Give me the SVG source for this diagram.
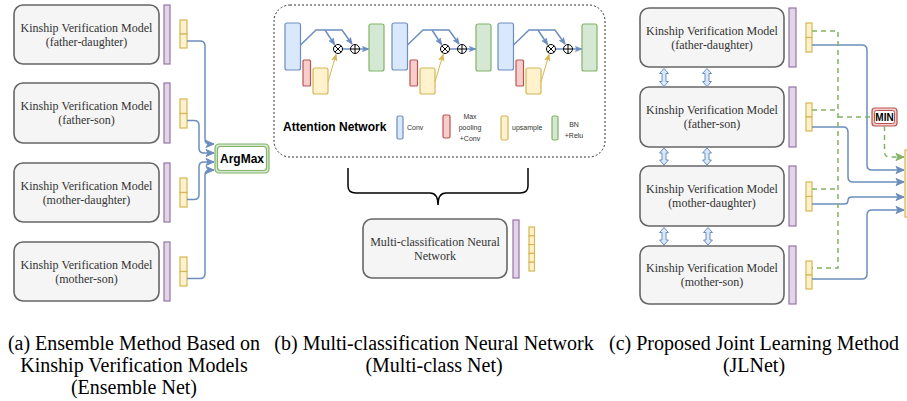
<svg xmlns="http://www.w3.org/2000/svg" width="907" height="401" viewBox="0 0 907 401">
<style>
.bg{fill:#ffffff}
.node{fill:#f5f5f5;stroke:#666666;stroke-width:1.6}
.purple{fill:#e1d5e7;stroke:#9673a6;stroke-width:1.2}
.yellow{fill:#fff2cc;stroke:#d6b656;stroke-width:1.2}
.blue{fill:#dae8fc;stroke:#6c8ebf;stroke-width:1.2}
.red{fill:#f8cecc;stroke:#b85450;stroke-width:1.2}
.green{fill:#d5e8d4;stroke:#82b366;stroke-width:1.2}
.lbl{font-size:12px;fill:#333333;text-anchor:middle}
.cap{font-size:20px;fill:#000000;text-anchor:middle}
.bold{font-weight:bold;fill:#000000}
.small{font-size:7px;fill:#333333}
.bl{fill:none;stroke:#6c8ebf;stroke-width:1.5}
.gl{fill:none;stroke:#82b366;stroke-width:1.5;stroke-dasharray:5 4}
.yl{fill:none;stroke:#d6b656;stroke-width:1}
.op{fill:#ffffff;stroke:#000000;stroke-width:1}
.dbl{fill:#dae8fc;stroke:#6c8ebf;stroke-width:1}
</style>
<defs>
<marker id="ab" markerUnits="userSpaceOnUse" markerWidth="10" markerHeight="10" refX="9" refY="5" orient="auto">
<path d="M1,1.5 L9,5 L1,8.5 L3,5 Z" fill="#6c8ebf" stroke="#6c8ebf" stroke-width="1"/>
</marker>
<marker id="ag" markerUnits="userSpaceOnUse" markerWidth="10" markerHeight="10" refX="9" refY="5" orient="auto">
<path d="M1,1.5 L9,5 L1,8.5 L3,5 Z" fill="#82b366" stroke="#82b366" stroke-width="1"/>
</marker>
<marker id="abs" markerUnits="userSpaceOnUse" markerWidth="8" markerHeight="8" refX="7" refY="4" orient="auto">
<path d="M1,1.5 L7,4 L1,6.5 L2.5,4 Z" fill="#6c8ebf" stroke="#6c8ebf" stroke-width="0.8"/>
</marker>
<marker id="ays" markerUnits="userSpaceOnUse" markerWidth="8" markerHeight="8" refX="7" refY="4" orient="auto">
<path d="M1,1.5 L7,4 L1,6.5 L2.5,4 Z" fill="#d6b656" stroke="#d6b656" stroke-width="0.8"/>
</marker>
<g id="attblock">
<rect class="blue" x="285" y="23" width="15.5" height="47" rx="2"/>
<rect class="red" x="303" y="60" width="7.5" height="26" rx="1"/>
<rect class="yellow" x="313" y="68" width="15" height="26" rx="2"/>
<rect class="green" x="369" y="24" width="15" height="47" rx="2"/>
<path class="bl" stroke-width="1.2" d="M300.5,45 L316,30 H342 L352,44" marker-end="url(#abs)"/>
<path class="bl" stroke-width="1.2" d="M325,30 L334.5,44.5" marker-end="url(#abs)"/>
<path class="yl" d="M328,82 L336,54.5" marker-end="url(#ays)"/>
<path class="bl" stroke-width="1.2" d="M342.5,49 H350.5"/>
<path class="bl" stroke-width="1.2" d="M359.5,49 H368.5" marker-end="url(#abs)"/>
<circle class="op" cx="338" cy="49" r="4.5"/>
<path d="M334.8,45.8 L341.2,52.2 M341.2,45.8 L334.8,52.2" stroke="#000" stroke-width="1"/>
<circle class="op" cx="355" cy="49" r="4.5"/>
<path d="M350.5,49 H359.5 M355,44.5 V53.5" stroke="#000" stroke-width="1"/>
</g>
</defs>
<rect class="bg" x="0" y="0" width="907" height="401"/>

<!-- Panel (a) -->
<g font-family="'Liberation Serif', 'DejaVu Serif', serif">
<g id="a-fd">
<rect class="node" x="14" y="5" width="145" height="59" rx="9"/>
<text class="lbl" x="86.5" y="31.5">Kinship Verification Model</text>
<text class="lbl" x="86.5" y="45.5">(father-daughter)</text>
<rect class="purple" x="164" y="5" width="6" height="59"/>
<rect class="yellow" x="180" y="20" width="7" height="14"/>
<rect class="yellow" x="180" y="34" width="7" height="14"/>
</g>
<g id="a-fs">
<rect class="node" x="14" y="83" width="145" height="60" rx="9"/>
<text class="lbl" x="86.5" y="110">Kinship Verification Model</text>
<text class="lbl" x="86.5" y="124">(father-son)</text>
<rect class="purple" x="164" y="83" width="6" height="60"/>
<rect class="yellow" x="180" y="99" width="7" height="14.5"/>
<rect class="yellow" x="180" y="113.5" width="7" height="14.5"/>
</g>
<g id="a-md">
<rect class="node" x="14" y="163" width="145" height="59" rx="9"/>
<text class="lbl" x="86.5" y="189.5">Kinship Verification Model</text>
<text class="lbl" x="86.5" y="203.5">(mother-daughter)</text>
<rect class="purple" x="164" y="163" width="6" height="59"/>
<rect class="yellow" x="180" y="178" width="7" height="14.5"/>
<rect class="yellow" x="180" y="192.5" width="7" height="14.5"/>
</g>
<g id="a-ms">
<rect class="node" x="14" y="242" width="145" height="59" rx="9"/>
<text class="lbl" x="86.5" y="268.5">Kinship Verification Model</text>
<text class="lbl" x="86.5" y="282.5">(mother-son)</text>
<rect class="purple" x="164" y="242" width="6" height="59"/>
<rect class="yellow" x="180" y="257" width="7" height="14.5"/>
<rect class="yellow" x="180" y="271.5" width="7" height="14.5"/>
</g>
</g>
<g id="argmax" font-family="'Liberation Sans', Arial, sans-serif">
<rect x="215" y="144" width="54" height="29" rx="4" fill="#d5e8d4" stroke="#82b366" stroke-width="1.2"/>
<rect x="217.5" y="146.5" width="49" height="24" rx="3" fill="#ffffff" stroke="#82b366" stroke-width="1.2"/>
<text class="bold" x="242" y="163" font-size="12" text-anchor="middle">ArgMax</text>
</g>

<!-- Panel (b) -->
<g id="attention-network" font-family="'Liberation Sans', Arial, sans-serif">
<rect x="274" y="5" width="331" height="152" rx="16" fill="none" stroke="#333333" stroke-width="1" stroke-dasharray="2 2"/>
<use href="#attblock"/>
<use href="#attblock" x="107"/>
<use href="#attblock" x="213"/>
<text class="bold" x="283" y="131" font-size="12">Attention Network</text>
<rect class="blue" x="397" y="116" width="6" height="23" rx="1.5"/>
<text class="small" x="407" y="130">Conv</text>
<rect class="red" x="443" y="115" width="7" height="23" rx="1.5"/>
<text class="small" x="470" y="119" text-anchor="middle">Max</text>
<text class="small" x="470" y="130" text-anchor="middle">pooling</text>
<text class="small" x="470" y="141" text-anchor="middle">+Conv</text>
<rect class="yellow" x="501" y="116" width="7" height="24" rx="1.5"/>
<text class="small" x="512" y="130">upsample</text>
<rect class="green" x="552" y="116" width="6" height="24" rx="1.5"/>
<text class="small" x="574" y="127" text-anchor="middle">BN</text>
<text class="small" x="574" y="138" text-anchor="middle">+Relu</text>
</g>
<path id="brace" d="M348,168 V186 Q348,193 356,193 H430 Q438,193 438,205 Q438,193 446,193 H520 Q528,193 528,186 V168" fill="none" stroke="#000000" stroke-width="1.5"/>
<g id="multi-class" font-family="'Liberation Serif', 'DejaVu Serif', serif">
<rect class="node" x="363" y="219" width="144" height="59" rx="9"/>
<text class="lbl" x="435" y="245.5">Multi-classification Neural</text>
<text class="lbl" x="435" y="259.5">Network</text>
<rect class="purple" x="513" y="220" width="6" height="58"/>
<rect class="yellow" x="529" y="227" width="5.5" height="8.8"/>
<rect class="yellow" x="529" y="235.8" width="5.5" height="8.8"/>
<rect class="yellow" x="529" y="244.6" width="5.5" height="8.8"/>
<rect class="yellow" x="529" y="253.4" width="5.5" height="8.8"/>
<rect class="yellow" x="529" y="262.2" width="5.5" height="8.8"/>
</g>

<!-- Panel (c) -->
<g font-family="'Liberation Serif', 'DejaVu Serif', serif">
<g id="c-fd">
<rect class="node" x="640" y="8" width="144" height="59" rx="9"/>
<text class="lbl" x="712" y="34.5">Kinship Verification Model</text>
<text class="lbl" x="712" y="48.5">(father-daughter)</text>
<rect class="purple" x="789" y="8" width="7" height="59"/>
<rect class="yellow" x="806" y="23" width="6" height="14.5"/>
<rect class="yellow" x="806" y="37.5" width="6" height="14.5"/>
</g>
<g id="c-fs">
<rect class="node" x="640" y="87" width="144" height="60" rx="9"/>
<text class="lbl" x="712" y="114">Kinship Verification Model</text>
<text class="lbl" x="712" y="128">(father-son)</text>
<rect class="purple" x="789" y="87" width="7" height="60"/>
<rect class="yellow" x="806" y="103" width="6" height="14"/>
<rect class="yellow" x="806" y="117" width="6" height="14"/>
</g>
<g id="c-md">
<rect class="node" x="640" y="166" width="144" height="60" rx="9"/>
<text class="lbl" x="712" y="193">Kinship Verification Model</text>
<text class="lbl" x="712" y="207">(mother-daughter)</text>
<rect class="purple" x="789" y="166" width="7" height="60"/>
<rect class="yellow" x="806" y="182" width="6" height="14.5"/>
<rect class="yellow" x="806" y="196.5" width="6" height="14.5"/>
</g>
<g id="c-ms">
<rect class="node" x="640" y="246" width="144" height="58" rx="9"/>
<text class="lbl" x="712" y="272">Kinship Verification Model</text>
<text class="lbl" x="712" y="286">(mother-son)</text>
<rect class="purple" x="789" y="246" width="7" height="58"/>
<rect class="yellow" x="806" y="261" width="6" height="14"/>
<rect class="yellow" x="806" y="275" width="6" height="14"/>
</g>
</g>
<g id="min" font-family="'Liberation Sans', Arial, sans-serif">
<rect x="872" y="108" width="25" height="18" rx="3" fill="#f8cecc" stroke="#b85450" stroke-width="1.2"/>
<rect x="874.5" y="110.5" width="20" height="13" rx="2" fill="#ffffff" stroke="#b85450" stroke-width="1"/>
<text class="bold" x="884.5" y="121" font-size="10" text-anchor="middle">MIN</text>
</g>
<g id="target">
<rect class="yellow" x="905" y="150" width="7" height="67"/>
</g>

<g id="connectors">
<path class="bl" d="M187,41 H200 Q205,41 205,46 V139 Q205,144 210,144 H214" marker-end="url(#ab)"/>
<path class="bl" d="M187,120.5 H194 Q199,120.5 199,125.5 V148 Q199,153 204,153 H214" marker-end="url(#ab)"/>
<path class="bl" d="M187,199.5 H194 Q199,199.5 199,194.5 V167 Q199,162 204,162 H214" marker-end="url(#ab)"/>
<path class="bl" d="M187,278.5 H200 Q205,278.5 205,273.5 V175 Q205,170 210,170 H214" marker-end="url(#ab)"/>
<path class="dbl" d="M664,68.5 L668.5,73.5 L666,73.5 L666,81.5 L668.5,81.5 L664,86.5 L659.5,81.5 L662,81.5 L662,73.5 L659.5,73.5 Z"/>
<path class="dbl" d="M707,68.5 L711.5,73.5 L709,73.5 L709,81.5 L711.5,81.5 L707,86.5 L702.5,81.5 L705,81.5 L705,73.5 L702.5,73.5 Z"/>
<path class="dbl" d="M664,148 L668.5,153 L666,153 L666,160 L668.5,160 L664,165 L659.5,160 L662,160 L662,153 L659.5,153 Z"/>
<path class="dbl" d="M707,148 L711.5,153 L709,153 L709,160 L711.5,160 L707,165 L702.5,160 L705,160 L705,153 L702.5,153 Z"/>
<path class="dbl" d="M664,227.5 L668.5,232.5 L666,232.5 L666,240 L668.5,240 L664,245 L659.5,240 L662,240 L662,232.5 L659.5,232.5 Z"/>
<path class="dbl" d="M708,227.5 L712.5,232.5 L710,232.5 L710,240 L712.5,240 L708,245 L703.5,240 L706,240 L706,232.5 L703.5,232.5 Z"/>
<path class="bl" d="M812,45 H862 Q867,45 867,50 V165 Q867,170 872,170 H904" marker-end="url(#ab)"/>
<path class="bl" d="M812,127 H843 Q848,127 848,132 V177 Q848,182 853,182 H904" marker-end="url(#ab)"/>
<path class="bl" d="M812,204 H844 Q848,204 848,200.5 Q848,197 852,197 H904" marker-end="url(#ab)"/>
<path class="bl" d="M812,279 H862 Q867,279 867,274 V215 Q867,210 872,210 H904" marker-end="url(#ab)"/>
<path class="gl" d="M812,31 H838 V268 H812"/>
<path class="gl" d="M812,110 H838"/>
<path class="gl" d="M812,189 H838"/>
<path class="gl" d="M838,117 H872"/>
<path class="gl" d="M884.5,126 V152 Q884.5,157 889.5,157 H904" marker-end="url(#ag)"/>
</g>

<g id="captions" font-family="'Liberation Serif', 'DejaVu Serif', serif">
<text class="cap" x="134" y="350">(a) Ensemble Method Based on</text>
<text class="cap" x="134" y="372">Kinship Verification Models</text>
<text class="cap" x="134" y="394">(Ensemble Net)</text>
<text class="cap" x="434" y="350">(b) Multi-classification Neural Network</text>
<text class="cap" x="434" y="372">(Multi-class Net)</text>
<text class="cap" x="754" y="350">(c) Proposed Joint Learning Method</text>
<text class="cap" x="754" y="372">(JLNet)</text>
</g>
</svg>
